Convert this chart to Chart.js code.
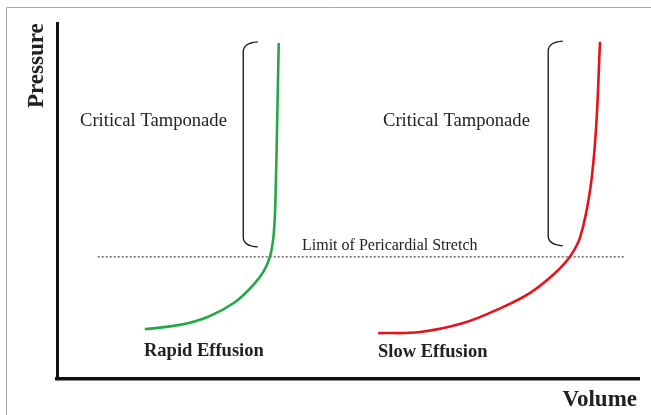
<!DOCTYPE html>
<html>
<head>
<meta charset="utf-8">
<script src="https://cdn.jsdelivr.net/npm/chart.js@4/dist/chart.umd.min.js"></script>
<style>
  html, body { margin: 0; padding: 0; background: #fff; }
  #wrap { width: 651px; height: 415px; }
</style>
</head>
<body>
<div id="wrap"><canvas id="myChart" width="651" height="415"></canvas></div>
<script>
// 볼륨(x), 압력(y) 값 - 그림에서 읽은 대략값 (0~100 단위)
const rapidVolume = [15.1, 21.1, 26.0, 30.5, 33.5, 35.6, 36.7, 37.3, 37.6, 37.8, 38.1];
const rapidPressure = [14.0, 15.2, 17.5, 21.5, 26.0, 30.5, 35.0, 42.0, 55.0, 70.0, 94.4];

const slowVolume = [55.2, 62.4, 69.8, 76.6, 81.3, 85.2, 88.1, 89.9, 91.6, 92.6, 93.3];
const slowPressure = [12.9, 13.2, 15.7, 20.2, 24.2, 29.2, 34.3, 39.9, 53.1, 69.9, 94.7];

// 심낭 신장 한계선
const stretchLimit = 34.3;
const stretchRange = [7.0, 97.6];

// 괄호 (x 세로선, x 끝, y 위, y 아래)
const brackets = [
  [32.0, 34.5, 94.7, 37.1],
  [84.4, 86.9, 94.9, 37.4],
];

function toPoints(xs, ys) {
  return xs.map((x, i) => ({ x: x, y: ys[i] }));
}

const data = {
  datasets: [
    {
      label: 'Rapid Effusion',
      data: toPoints(rapidVolume, rapidPressure),
      borderColor: '#23a847',
      borderWidth: 2.6,
      pointRadius: 0,
      tension: 0.4,
    },
    {
      label: 'Slow Effusion',
      data: toPoints(slowVolume, slowPressure),
      borderColor: '#e5141b',
      borderWidth: 2.6,
      pointRadius: 0,
      tension: 0.4,
    },
    {
      label: 'Limit of Pericardial Stretch',
      data: stretchRange.map((x) => ({ x: x, y: stretchLimit })),
      borderColor: '#222',
      borderWidth: 1,
      borderDash: [2, 2],
      pointRadius: 0,
    },
  ],
};

// 괄호, 글자, 테두리 그리기
const extras = {
  id: 'extras',
  beforeDraw(chart) {
    const ctx = chart.ctx;
    ctx.save();
    ctx.fillStyle = '#fff';
    ctx.fillRect(0, 0, chart.width, chart.height);
    ctx.strokeStyle = '#a8a8a8';
    ctx.lineWidth = 1;
    ctx.beginPath();
    ctx.moveTo(6.5, 415);
    ctx.lineTo(6.5, 7.5);
    ctx.lineTo(651, 7.5);
    ctx.stroke();
    ctx.restore();
  },
  afterDatasetsDraw(chart) {
    const ctx = chart.ctx;
    const xs = chart.scales.x;
    const ys = chart.scales.y;
    ctx.save();

    // 괄호
    ctx.strokeStyle = '#111';
    ctx.lineWidth = 1.3;
    brackets.forEach(([xv, xe, yt, yb]) => {
      const x0 = xs.getPixelForValue(xv);
      const x1 = xs.getPixelForValue(xe);
      const y0 = ys.getPixelForValue(yt);
      const y1 = ys.getPixelForValue(yb);
      ctx.beginPath();
      ctx.moveTo(x1, y0);
      ctx.quadraticCurveTo(x0, y0 + 1, x0, y0 + 10);
      ctx.lineTo(x0, y1 - 10);
      ctx.quadraticCurveTo(x0, y1 - 1, x1, y1);
      ctx.stroke();
    });

    ctx.fillStyle = '#222';
    ctx.textBaseline = 'alphabetic';
    ctx.textAlign = 'left';
    ctx.font = '18.6px "Liberation Serif"';
    ctx.fillText('Critical Tamponade', 80, 126);
    ctx.fillText('Critical Tamponade', 383, 126);
    ctx.font = '16px "Liberation Serif"';
    ctx.fillText('Limit of Pericardial Stretch', 302, 250);
    ctx.font = 'bold 18.5px "Liberation Serif"';
    ctx.fillText('Rapid Effusion', 144, 356);
    ctx.fillText('Slow Effusion', 378, 357);
    ctx.font = 'bold 23px "Liberation Serif"';
    ctx.textAlign = 'right';
    ctx.fillText('Volume', 637, 406);

    ctx.translate(43, 108);
    ctx.rotate(-Math.PI / 2);
    ctx.textAlign = 'left';
    ctx.fillText('Pressure', 0, 0);
    ctx.restore();
  },
};

const config = {
  type: 'line',
  data: data,
  options: {
    responsive: false,
    animation: false,
    layout: { padding: { left: 57, top: 23, right: 12, bottom: 36 } },
    plugins: { legend: { display: false }, tooltip: { enabled: false } },
    scales: {
      x: {
        type: 'linear',
        min: 0,
        max: 100,
        ticks: { display: false },
        grid: { display: false, drawTicks: false },
        border: { display: true, color: '#111', width: 3.5 },
      },
      y: {
        min: 0,
        max: 100,
        ticks: { display: false },
        grid: { display: false, drawTicks: false },
        border: { display: true, color: '#111', width: 3 },
      },
    },
  },
  plugins: [extras],
};

const myChart = new Chart(document.getElementById('myChart'), config);
</script>
</body>
</html>
